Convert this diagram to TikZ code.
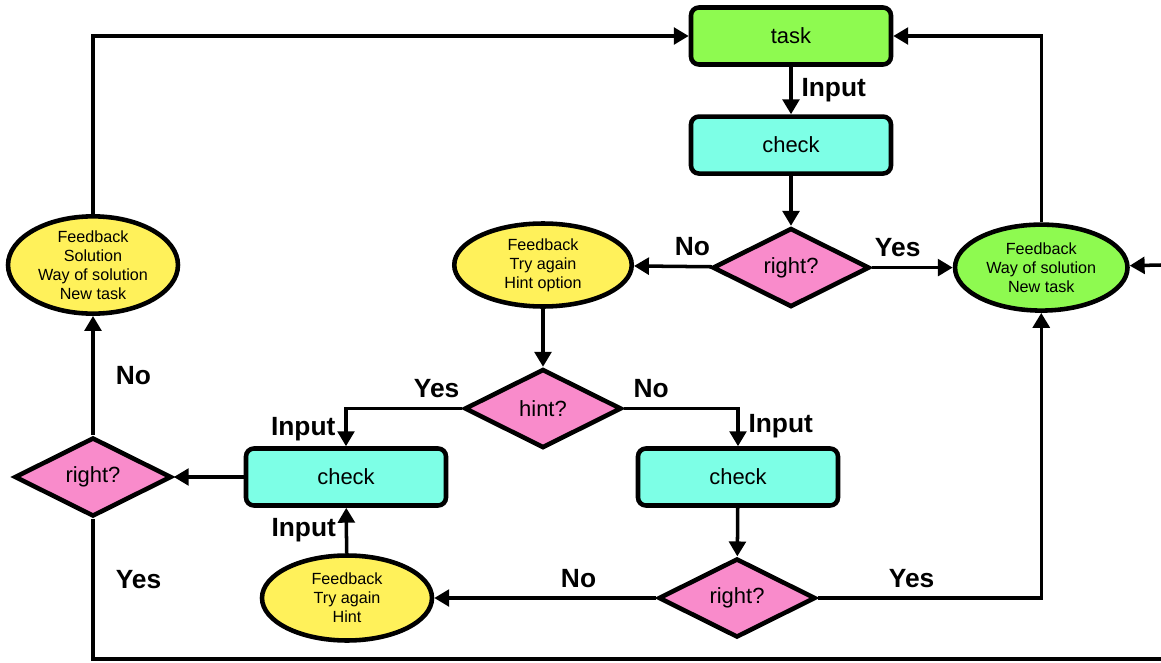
\documentclass[tikz,border=0pt]{standalone}
\usepackage{fontspec}
\setmainfont{Liberation Sans}
\usetikzlibrary{
  arrows.meta,
  positioning,
  shapes.geometric
}
\definecolor{fctask}{HTML}{8EFA50}
\definecolor{fccheck}{HTML}{7DFFE6}
\definecolor{fcyellow}{HTML}{FFF15A}
\definecolor{fcpink}{HTML}{F98BCB}

\begin{document}
\begin{tikzpicture}[
      x=0.02cm, y=-0.02cm,
      box/.style={
        rectangle, rounded corners=4.5pt,
        minimum width=4cm, minimum height=1.14cm,
        draw=black, line width=2.6pt,
        font=\fontsize{12.5}{15}\selectfont, align=center
      },
      query/.style={
        diamond, inner sep=0pt,
        minimum width=3.14cm, minimum height=1.58cm,
        draw=black, line width=2.6pt, fill=fcpink,
        font=\fontsize{12.5}{15}\selectfont
      },
      answer/.style={
        ellipse, inner sep=0pt,
        minimum width=3.45cm, minimum height=1.72cm,
        draw=black, line width=2.6pt,
        font=\fontsize{9.2}{10.8}\selectfont, align=center
      },
      arrow/.style={-{Triangle[length=8.5pt, width=9.5pt]}, line width=2pt},
      line/.style={line width=2pt},
      lbl/.style={font=\fontsize{15}{18}\selectfont\bfseries, inner sep=5pt}
    ]
      \useasboundingbox (0,0) rectangle (1161,663);

      \node[box, fill=fctask] (task) at (791,36) {task};
      \node[box, fill=fccheck, below=0.95cm of task] (check) {check};
      \node[query, below=1.0cm of check] (right) {right?};
      \node[answer, fill=fcyellow, minimum width=3.55cm, minimum height=1.66cm] (fbhint) at (543,265) {Feedback\\Try again\\Hint option};
      \node[answer, fill=fctask, right=1.62cm of right] (wayok) {Feedback\\Way of solution\\New task};
      \node[answer, fill=fcyellow, minimum width=3.4cm] (fbsol) at (93,265) {Feedback\\Solution\\Way of solution\\New task};

      \node[query, below=1.16cm of fbhint] (hint) {hint?};
      \node[box, fill=fccheck] (checkl) at (346,477) {check};
      \node[box, fill=fccheck] (checkr) at (738,477) {check};
      \node[query] (rightl) at (93,477) {right?};
      \node[query] (rightb) at (737,598) {right?};
      \node[answer, fill=fcyellow, minimum width=3.4cm, minimum height=1.7cm] (fbtry) at (347,598) {Feedback\\Try again\\Hint};

      \coordinate (loopb) at (93,659);
      \coordinate (loopr) at (1161,659);
      \coordinate (loopin) at (1161,265);

      \draw[arrow] (task) -- node[right, lbl] {Input} (check);
      \draw[arrow] (check) -- (right);
      \draw[arrow] (right) -- node[above, lbl, pos=0.25] {No} (fbhint);
      \draw[arrow] (right) -- node[above, lbl, pos=0.32] {Yes} (wayok);
      \draw[arrow] (wayok.north) |- (task.east);
      \draw[arrow] (loopin) -- (wayok);

      \draw[arrow] (fbhint) -- (hint);
      \draw[arrow] (hint.west) -| node[above, lbl, pos=0.11] {Yes} node[left, lbl, pos=0.78] {Input} (checkl.north);
      \draw[arrow] (hint.east) -| node[above, lbl, pos=0.12] {No} node[right, lbl, pos=0.74] {Input} (checkr.north);

      \draw[arrow] (checkl) -- (rightl);
      \draw[arrow] (rightl) -- node[right=7pt, lbl] {No} (fbsol);
      \draw[arrow] (fbsol.north) |- (task.west);
      \draw[line] (rightl.south) -- node[right=7pt, lbl, pos=0.43] {Yes} (loopb) -- (loopr);

      \draw[arrow] (checkr) -- (rightb);
      \draw[arrow] (rightb) -- node[above, lbl, pos=0.35] {No} (fbtry);
      \draw[arrow] (rightb) -| node[above, lbl, pos=0.21] {Yes} (wayok.south);
      \draw[arrow] (fbtry) -- node[left, lbl] {Input} (checkl);
    \end{tikzpicture}
\end{document}
